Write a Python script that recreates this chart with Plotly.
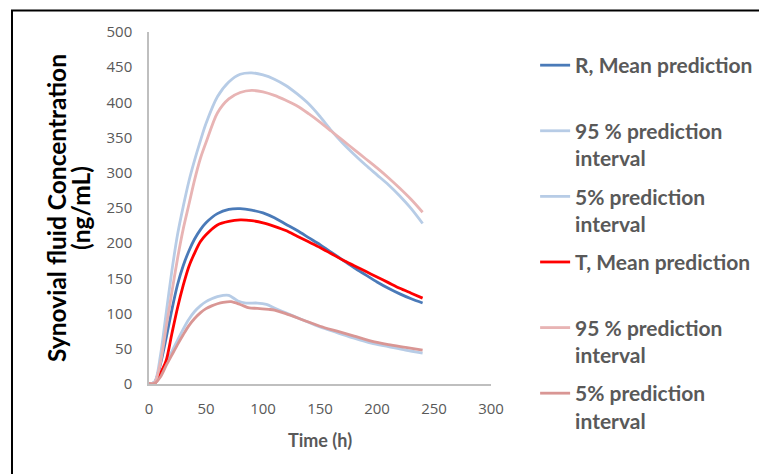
import plotly.graph_objects as go

# time grids (h)
t = [0, 5, 10, 15, 20, 25, 30, 35, 40, 45, 50, 60, 70, 80, 90, 100, 110, 120,
     130, 140, 150, 160, 170, 180, 190, 200, 210, 220, 230, 240]
t_low = [0, 5, 10, 15, 20, 25, 30, 35, 40, 45, 50, 55, 60, 65, 70, 78, 85, 95,
         103, 110, 120, 135, 150, 165, 180, 195, 210, 225, 240]
t_low_T = [0, 5, 10, 15, 20, 25, 30, 35, 40, 45, 50, 55, 60, 65, 72, 80, 88, 95,
           105, 110, 120, 135, 150, 165, 180, 195, 210, 225, 240]

# R (reference)
r_mean = [0, 3, 28, 65, 105, 141, 168, 189, 206, 219, 229, 242, 248, 249, 247,
          243, 236, 227, 218, 208, 198, 187, 176, 165, 155, 145, 136, 128, 121, 115]
r_p95 = [0, 3, 40, 100, 160, 212, 252, 288, 318, 345, 370, 408, 429, 440, 442,
         439, 433, 424, 412, 398, 380, 360, 342, 326, 311, 297, 283, 267, 249, 228]
r_p5 = [0, 1, 12, 30, 46, 62, 78, 92, 103, 111, 117, 121, 124, 126, 126, 118,
        115, 115, 113, 108, 101, 91, 81, 73, 65, 58, 53, 48, 44]

# T (test)
t_mean = [0, 1, 15, 33, 71, 108, 140, 167, 186, 202, 212, 226, 231, 233, 232,
          229, 224, 218, 210, 202, 194, 185, 176, 168, 160, 152, 144, 136, 129, 122]
t_p95 = [0, 2, 30, 80, 130, 178, 220, 255, 290, 320, 343, 385, 405, 414, 417,
         415, 410, 403, 395, 384, 372, 359, 346, 333, 320, 307, 293, 278, 262, 244]
t_p5 = [0, 1, 10, 26, 41, 56, 70, 83, 93, 101, 107, 111, 114, 116, 117, 113,
        108, 107.5, 106, 105, 100, 91, 82, 75, 68, 61, 56, 52, 48]

NB = "\u00a0"
series = [
    ("R, Mean prediction<br>" + NB, t, r_mean, "#4a7ab8"),
    ("95 % prediction<br>interval", t, r_p95, "#b7cce6"),
    ("5% prediction<br>interval", t_low, r_p5, "#b7cce6"),
    ("T, Mean prediction<br>" + NB, t, t_mean, "#ff0000"),
    ("95 % prediction<br>interval", t, t_p95, "#e8b4b4"),
    ("5% prediction<br>interval", t_low_T, t_p5, "#d99694"),
]

fig = go.Figure()
for i, (name, xs, ys, col) in enumerate(series):
    fig.add_trace(go.Scatter(
        x=xs, y=ys, mode="lines", name=name, legendgroup=str(i),
        line=dict(color=col, width=2.8, shape="spline", smoothing=0.8),
    ))

# the page body has an 8px margin, so the figure is 8px smaller and offset
W, H = 759, 466
fig.update_layout(
    width=W, height=H,
    margin=dict(l=141, r=W - 141 - 342, t=24, b=H - 24 - 352, autoexpand=False),
    paper_bgcolor="white", plot_bgcolor="white",
    font=dict(family="Open Sans, sans-serif", color="#595959"),
    showlegend=True,
    legend=dict(
        x=1.129, xanchor="left", y=0.963, yanchor="top",
        font=dict(family="Lato, sans-serif", size=21, color="#595959", weight="bold"),
        valign="top", tracegroupgap=8, itemwidth=30, maxheight=600,
        bgcolor="rgba(0,0,0,0)",
    ),
    xaxis=dict(
        range=[0, 300], dtick=50, showgrid=False, zeroline=False,
        showline=True, linecolor="#bfbfbf", linewidth=1.5, automargin=False,
        tickfont=dict(size=15, color="#595959"), ticklabelstandoff=10,
    ),
    yaxis=dict(
        range=[0, 500], dtick=50, showgrid=False, zeroline=False,
        showline=True, linecolor="#bfbfbf", linewidth=1.5, automargin=False,
        tickfont=dict(size=15, color="#595959"), ticklabelstandoff=12,
    ),
    annotations=[
        dict(text="<b>Time (h)</b>", xref="paper", yref="paper",
             x=0.5, y=-0.159, xanchor="center", yanchor="middle", showarrow=False,
             font=dict(family="Lato, sans-serif", size=18, color="#595959")),
        dict(text="<b>Synovial fluid Concentration</b>", xref="paper", yref="paper",
             x=-0.272, y=0.5, xanchor="center", yanchor="middle", showarrow=False,
             textangle=-90,
             font=dict(family="Lato, sans-serif", size=24.5, color="#000000")),
        dict(text="<b>(ng/mL)</b>", xref="paper", yref="paper",
             x=-0.202, y=0.5, xanchor="center", yanchor="middle", showarrow=False,
             textangle=-90,
             font=dict(family="Lato, sans-serif", size=24.5, color="#000000")),
    ],
    shapes=[dict(type="rect", xref="paper", yref="paper",
                 x0=-0.4006, x1=1.9, y0=-0.4, y1=1.061,
                 line=dict(color="black", width=2), fillcolor="rgba(0,0,0,0)",
                 layer="above")],
)

fig.write_html("out.html")
